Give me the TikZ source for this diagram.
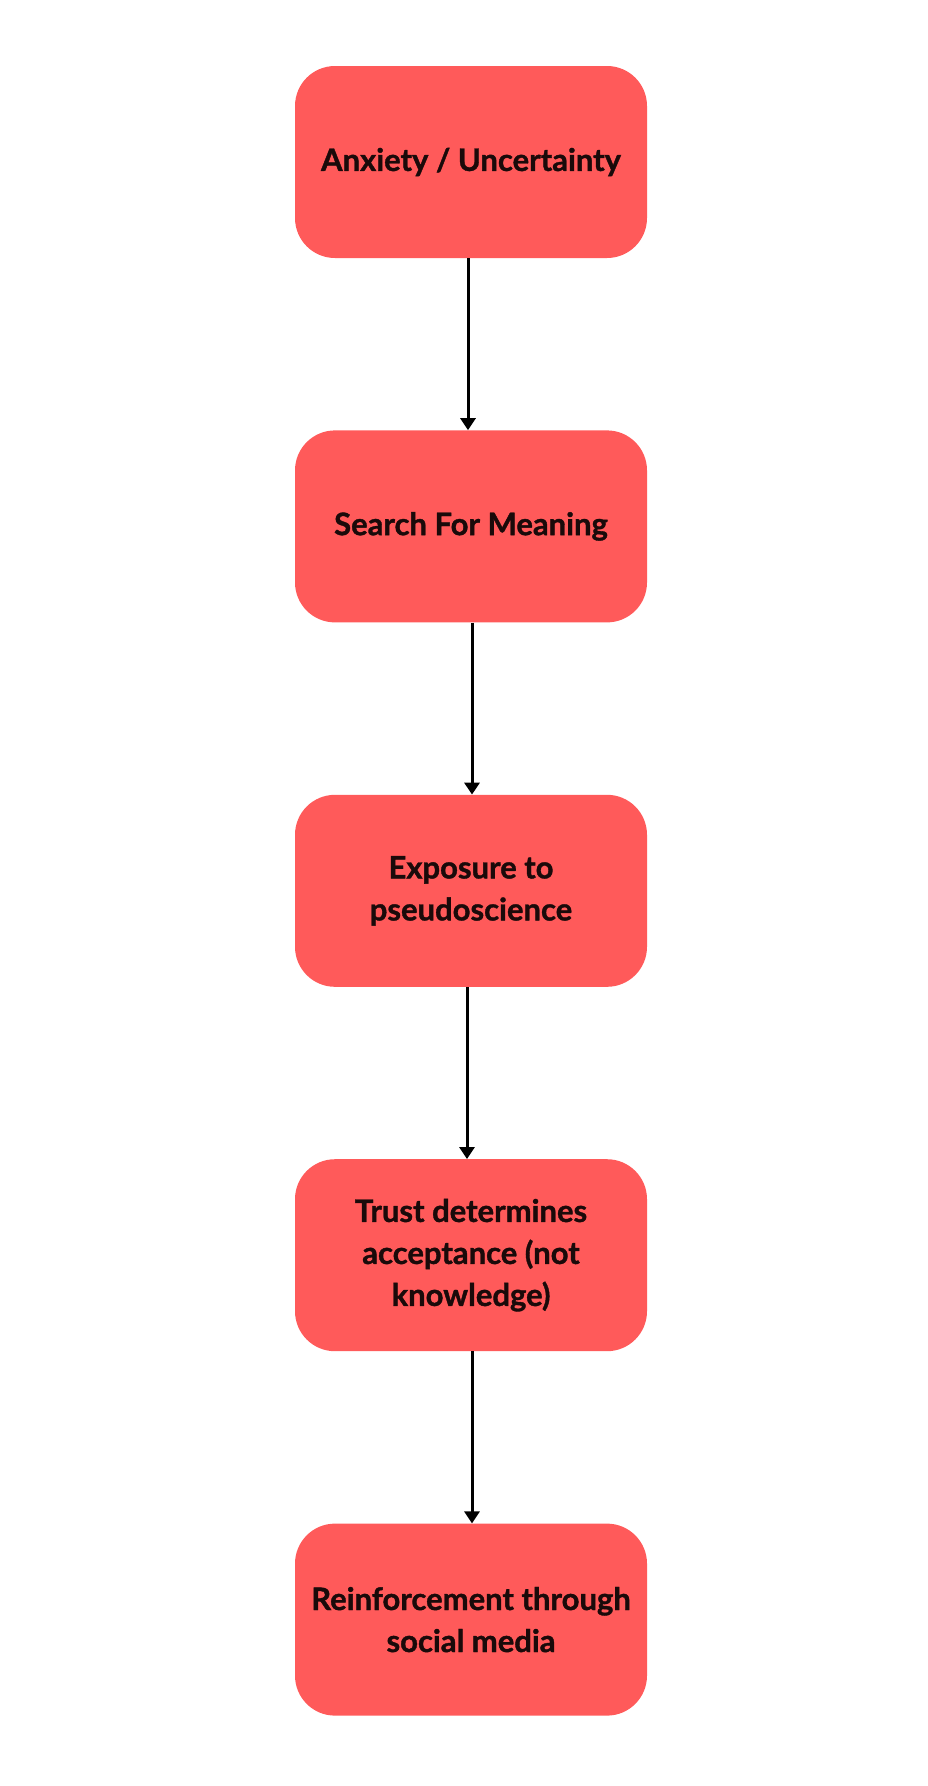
\documentclass[tikz,border=0pt]{standalone}
\usepackage{fontspec}
\setmainfont{Lato}[BoldFeatures={FakeBold=1.2}]
\usetikzlibrary{arrows.meta, positioning}
\definecolor{boxred}{HTML}{FF5A5A}
\definecolor{inkdark}{HTML}{1A0A0A}

\begin{document}
\begin{tikzpicture}[
            x=1pt, y=1pt,
            node distance=172pt,
            stepbox/.style={rectangle, rounded corners=40pt, fill=boxred, draw=none,
                minimum width=352pt, minimum height=192pt, align=center,
                text=inkdark, font=\fontsize{31}{42}\selectfont\bfseries},
            flowarrow/.style={-{Triangle[length=12pt, width=15pt]}, line width=3pt, black},
            ]
            \useasboundingbox (0,0) rectangle (928,-1786);

            \node[stepbox]    (anx)   at (471,-162) {Anxiety / Uncertainty};
            \node[stepbox]    (srch)  [below=of anx] {Search For Meaning};
            \node[stepbox]    (expo)  [below=of srch] {Exposure to\\pseudoscience};
            \node[stepbox]    (trust) [below=of expo] {Trust determines\\acceptance (not\\knowledge)};
            \node[stepbox]    (reinf) [below=of trust] {Reinforcement through\\social media};

            \draw[flowarrow] ([xshift=-3pt]anx.south) -- ([xshift=-3pt]srch.north);
            \draw[flowarrow] ([xshift=1pt]srch.south) -- ([xshift=1pt]expo.north);
            \draw[flowarrow] ([xshift=-4pt]expo.south) -- ([xshift=-4pt]trust.north);
            \draw[flowarrow] ([xshift=1pt]trust.south) -- ([xshift=1pt]reinf.north);
        \end{tikzpicture}
\end{document}
